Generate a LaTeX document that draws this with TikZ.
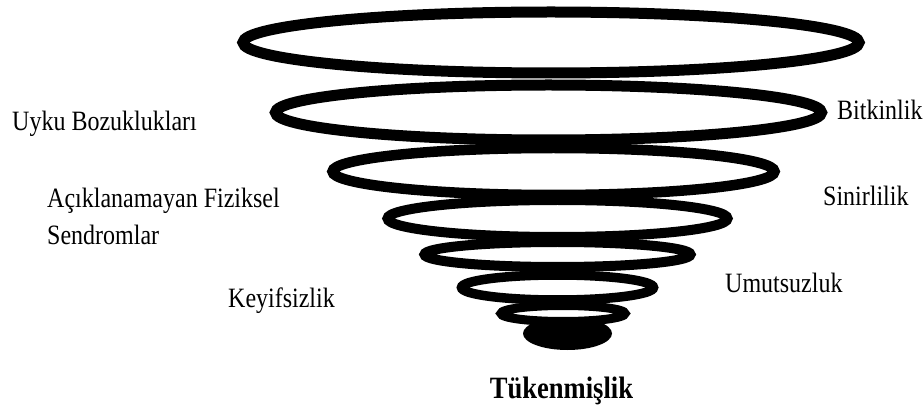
\documentclass[tikz,border=0pt]{standalone}
\usepackage{fontspec}
\setmainfont{Liberation Serif}[FakeStretch=0.857]
\begin{document}
\begin{tikzpicture}[x=1pt,y=-1pt,
  ring/.style={draw=black,line width=#1},
  lbl/.style={inner sep=0pt,anchor=base west,text=black,font=\fontsize{28}{32}\selectfont},
  ttl/.style={inner sep=0pt,anchor=base,text=black,font=\fontsize{31}{35}\selectfont\bfseries}]
\useasboundingbox (0,0) rectangle (924,406);
% funnel rings (top to bottom)
\draw[ring=11pt] (551,42.5) ellipse [x radius=308pt, y radius=30.5pt];
\draw[ring=11pt] (548.5,112.5) ellipse [x radius=273pt, y radius=27.5pt];
\draw[ring=10.5pt] (553.5,171.5) ellipse [x radius=221pt, y radius=23.5pt];
\draw[ring=10pt] (557.5,218.5) ellipse [x radius=170pt, y radius=18.5pt];
\draw[ring=10pt] (557.5,254.5) ellipse [x radius=133pt, y radius=12.5pt];
\draw[ring=9.5pt] (557.5,287.5) ellipse [x radius=96pt, y radius=12.5pt];
\draw[ring=9pt] (563,313.5) ellipse [x radius=62pt, y radius=8pt];
\fill[black] (567.5,333.5) ellipse [x radius=44.5pt, y radius=16.5pt];
% labels
\node[lbl] (uyku) at (12,131) {Uyku Bozuklukları};
\node[lbl] (acik) at (47,208) {Açıklanamayan Fiziksel};
\node[lbl] (send) at (47,245) {Sendromlar};
\node[lbl] (keyif) at (228,307) {Keyifsizlik};
\node[lbl] (bitkin) at (837,120) {Bitkinlik};
\node[lbl] (sinir) at (823,206) {Sinirlilik};
\node[lbl] (umut) at (725,292) {Umutsuzluk};
\node[ttl] (tuken) at (561.5,398) {Tükenmişlik};
\end{tikzpicture}
\end{document}
